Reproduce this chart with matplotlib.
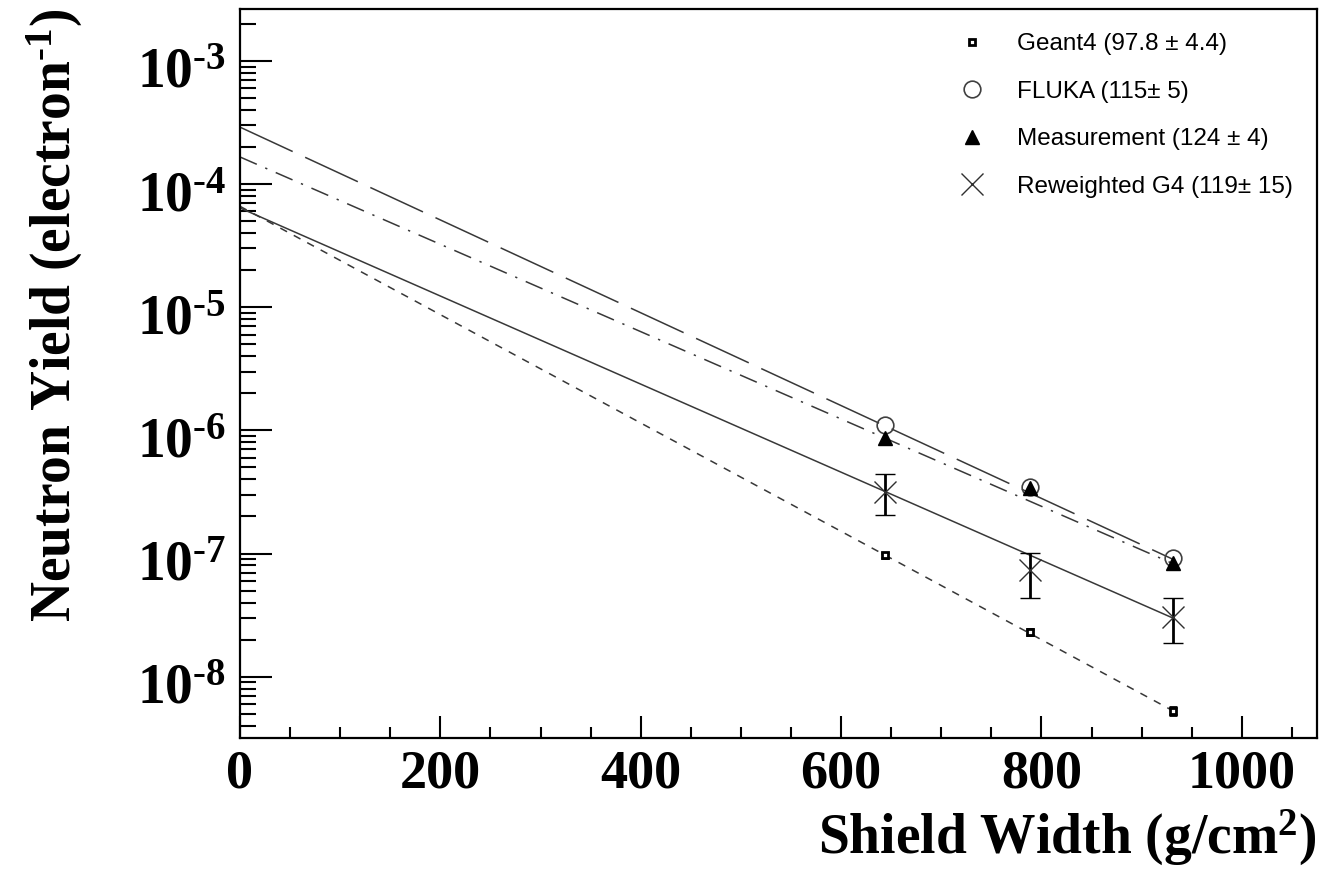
import numpy as np
import matplotlib
matplotlib.use("Agg")
import matplotlib.pyplot as plt
import matplotlib.transforms as mtransforms
from matplotlib.ticker import MultipleLocator, FixedLocator, FuncFormatter, NullFormatter
from matplotlib.lines import Line2D

plt.rcParams['mathtext.fontset'] = 'custom'
plt.rcParams['mathtext.rm'] = 'Liberation Serif:bold'
plt.rcParams['mathtext.bf'] = 'Liberation Serif:bold'
plt.rcParams['mathtext.it'] = 'Liberation Serif:bold'

# shield widths (g/cm2)
widths = [644, 789, 931]

# neutron yields per electron
geant4_y = [9.7e-8, 2.31e-8, 5.25e-9]
geant4_err = [5e-9, 1.3e-9, 4e-10]
fluka_y = [1.10e-6, 3.47e-7, 9.2e-8]
meas_y = [8.65e-7, 3.4e-7, 8.35e-8]
rew_y = [3.15e-7, 7.33e-8, 3.06e-8]
rew_lo = [2.05e-7, 4.35e-8, 1.88e-8]
rew_hi = [4.42e-7, 1.01e-7, 4.36e-8]

# exponential fit lines (end points)
fit_x = [0, 931]
geant4_fit = [6.6e-5, 5.3e-9]
fluka_fit = [2.9e-4, 9.0e-8]
meas_fit = [1.66e-4, 8.3e-8]
rew_fit = [6.4e-5, 3.0e-8]

labels = ['Geant4 (97.8 ± 4.4)', 'FLUKA (115± 5)', 'Measurement (124 ± 4)', 'Reweighted G4 (119± 15)']
decades = [-8, -7, -6, -5, -4, -3]

HY = '\u2010'  # short hyphen for exponents

fig = plt.figure(figsize=(13.36, 8.69), dpi=100)
ax = fig.add_axes([240/1336, 1 - 738/869, (1317 - 240)/1336, (738 - 9)/869])

lc = '#383838'
ax.plot(fit_x, geant4_fit, color=lc, lw=1.1, dashes=(5, 5))
ax.plot(fit_x, fluka_fit, color=lc, lw=1.1, dashes=(38, 9))
ax.plot(fit_x, meas_fit, color=lc, lw=1.1, dashes=(12, 6, 1.5, 6))
ax.plot(fit_x, rew_fit, color=lc, lw=1.1)

ax.errorbar(widths, geant4_y, yerr=geant4_err, fmt='s', ms=5, mfc='white', mec='black',
            mew=2, ecolor='black', elinewidth=2, capsize=3, capthick=2, zorder=4)
ax.plot(widths, fluka_y, 'o', ms=12, mfc='none', mec='#404040', mew=1.2, zorder=4)
ax.plot(widths, meas_y, '^', ms=10, color='black', zorder=5)
rew_err = [np.array(rew_y) - np.array(rew_lo), np.array(rew_hi) - np.array(rew_y)]
ax.errorbar(widths, rew_y, yerr=rew_err, fmt='x', ms=16, mew=1.0, color='#303030',
            ecolor='black', elinewidth=2, capsize=7, capthick=2, zorder=4)

ax.set_yscale('log')
ax.set_xlim(0, 1075)
ax.set_ylim(3.18e-9, 2.64e-3)

major_y = [10.0 ** d for d in decades]
minor_y = [m * 10.0 ** d for d in [-9] + decades for m in range(2, 10)]
minor_y = [v for v in minor_y if 3.18e-9 <= v <= 2.64e-3]

ax.xaxis.set_major_locator(MultipleLocator(200))
ax.xaxis.set_minor_locator(MultipleLocator(50))
ax.yaxis.set_major_locator(FixedLocator(major_y))
ax.yaxis.set_minor_locator(FixedLocator(minor_y))
ax.yaxis.set_minor_formatter(NullFormatter())
ax.yaxis.set_major_formatter(FuncFormatter(
    lambda v, p: r'$10^{%s%d}$' % (HY, abs(round(np.log10(v))))))

ax.tick_params(axis='both', which='both', direction='in', top=False, right=False, width=1.5, color='black')
ax.tick_params(axis='x', which='major', length=16, pad=8)
ax.tick_params(axis='x', which='minor', length=8)
ax.tick_params(axis='y', which='major', length=23, pad=10, labelsize=40)
ax.tick_params(axis='y', which='minor', length=11.5)
for lab in ax.get_xticklabels():
    lab.set_fontfamily('Liberation Serif')
    lab.set_fontweight('bold')
    lab.set_fontsize(39)
# shift y tick labels slightly down like the original
shift = mtransforms.ScaledTranslation(0, -6 / 100, fig.dpi_scale_trans)
for lab in ax.get_yticklabels():
    lab.set_transform(lab.get_transform() + shift)
for s in ax.spines.values():
    s.set_linewidth(1.6)

ax.set_xlabel('Shield Width (g/cm$^{2}$)', fontfamily='Liberation Serif', fontweight='bold',
              fontsize=40, loc='right', labelpad=6)
ax.set_ylabel('Neutron Yield (electron$^{%s1}$)' % HY, fontfamily='Liberation Serif', fontweight='bold',
              fontsize=40, loc='top', labelpad=37)

handles = [
    Line2D([], [], ls='none', marker='s', ms=5, mfc='white', mec='black', mew=2),
    Line2D([], [], ls='none', marker='o', ms=12, mfc='none', mec='#404040', mew=1.2),
    Line2D([], [], ls='none', marker='^', ms=10, color='black'),
    Line2D([], [], ls='none', marker='x', ms=16, mew=1.0, color='#303030'),
]
leg = ax.legend(handles, labels, loc='upper right', bbox_to_anchor=(1.0, 1.0), frameon=False,
                prop={'family': 'Liberation Sans', 'size': 17.5}, labelspacing=1.05,
                handletextpad=1.1, handlelength=1.5, borderaxespad=0.6)

fig.savefig('out.png', dpi=100)
